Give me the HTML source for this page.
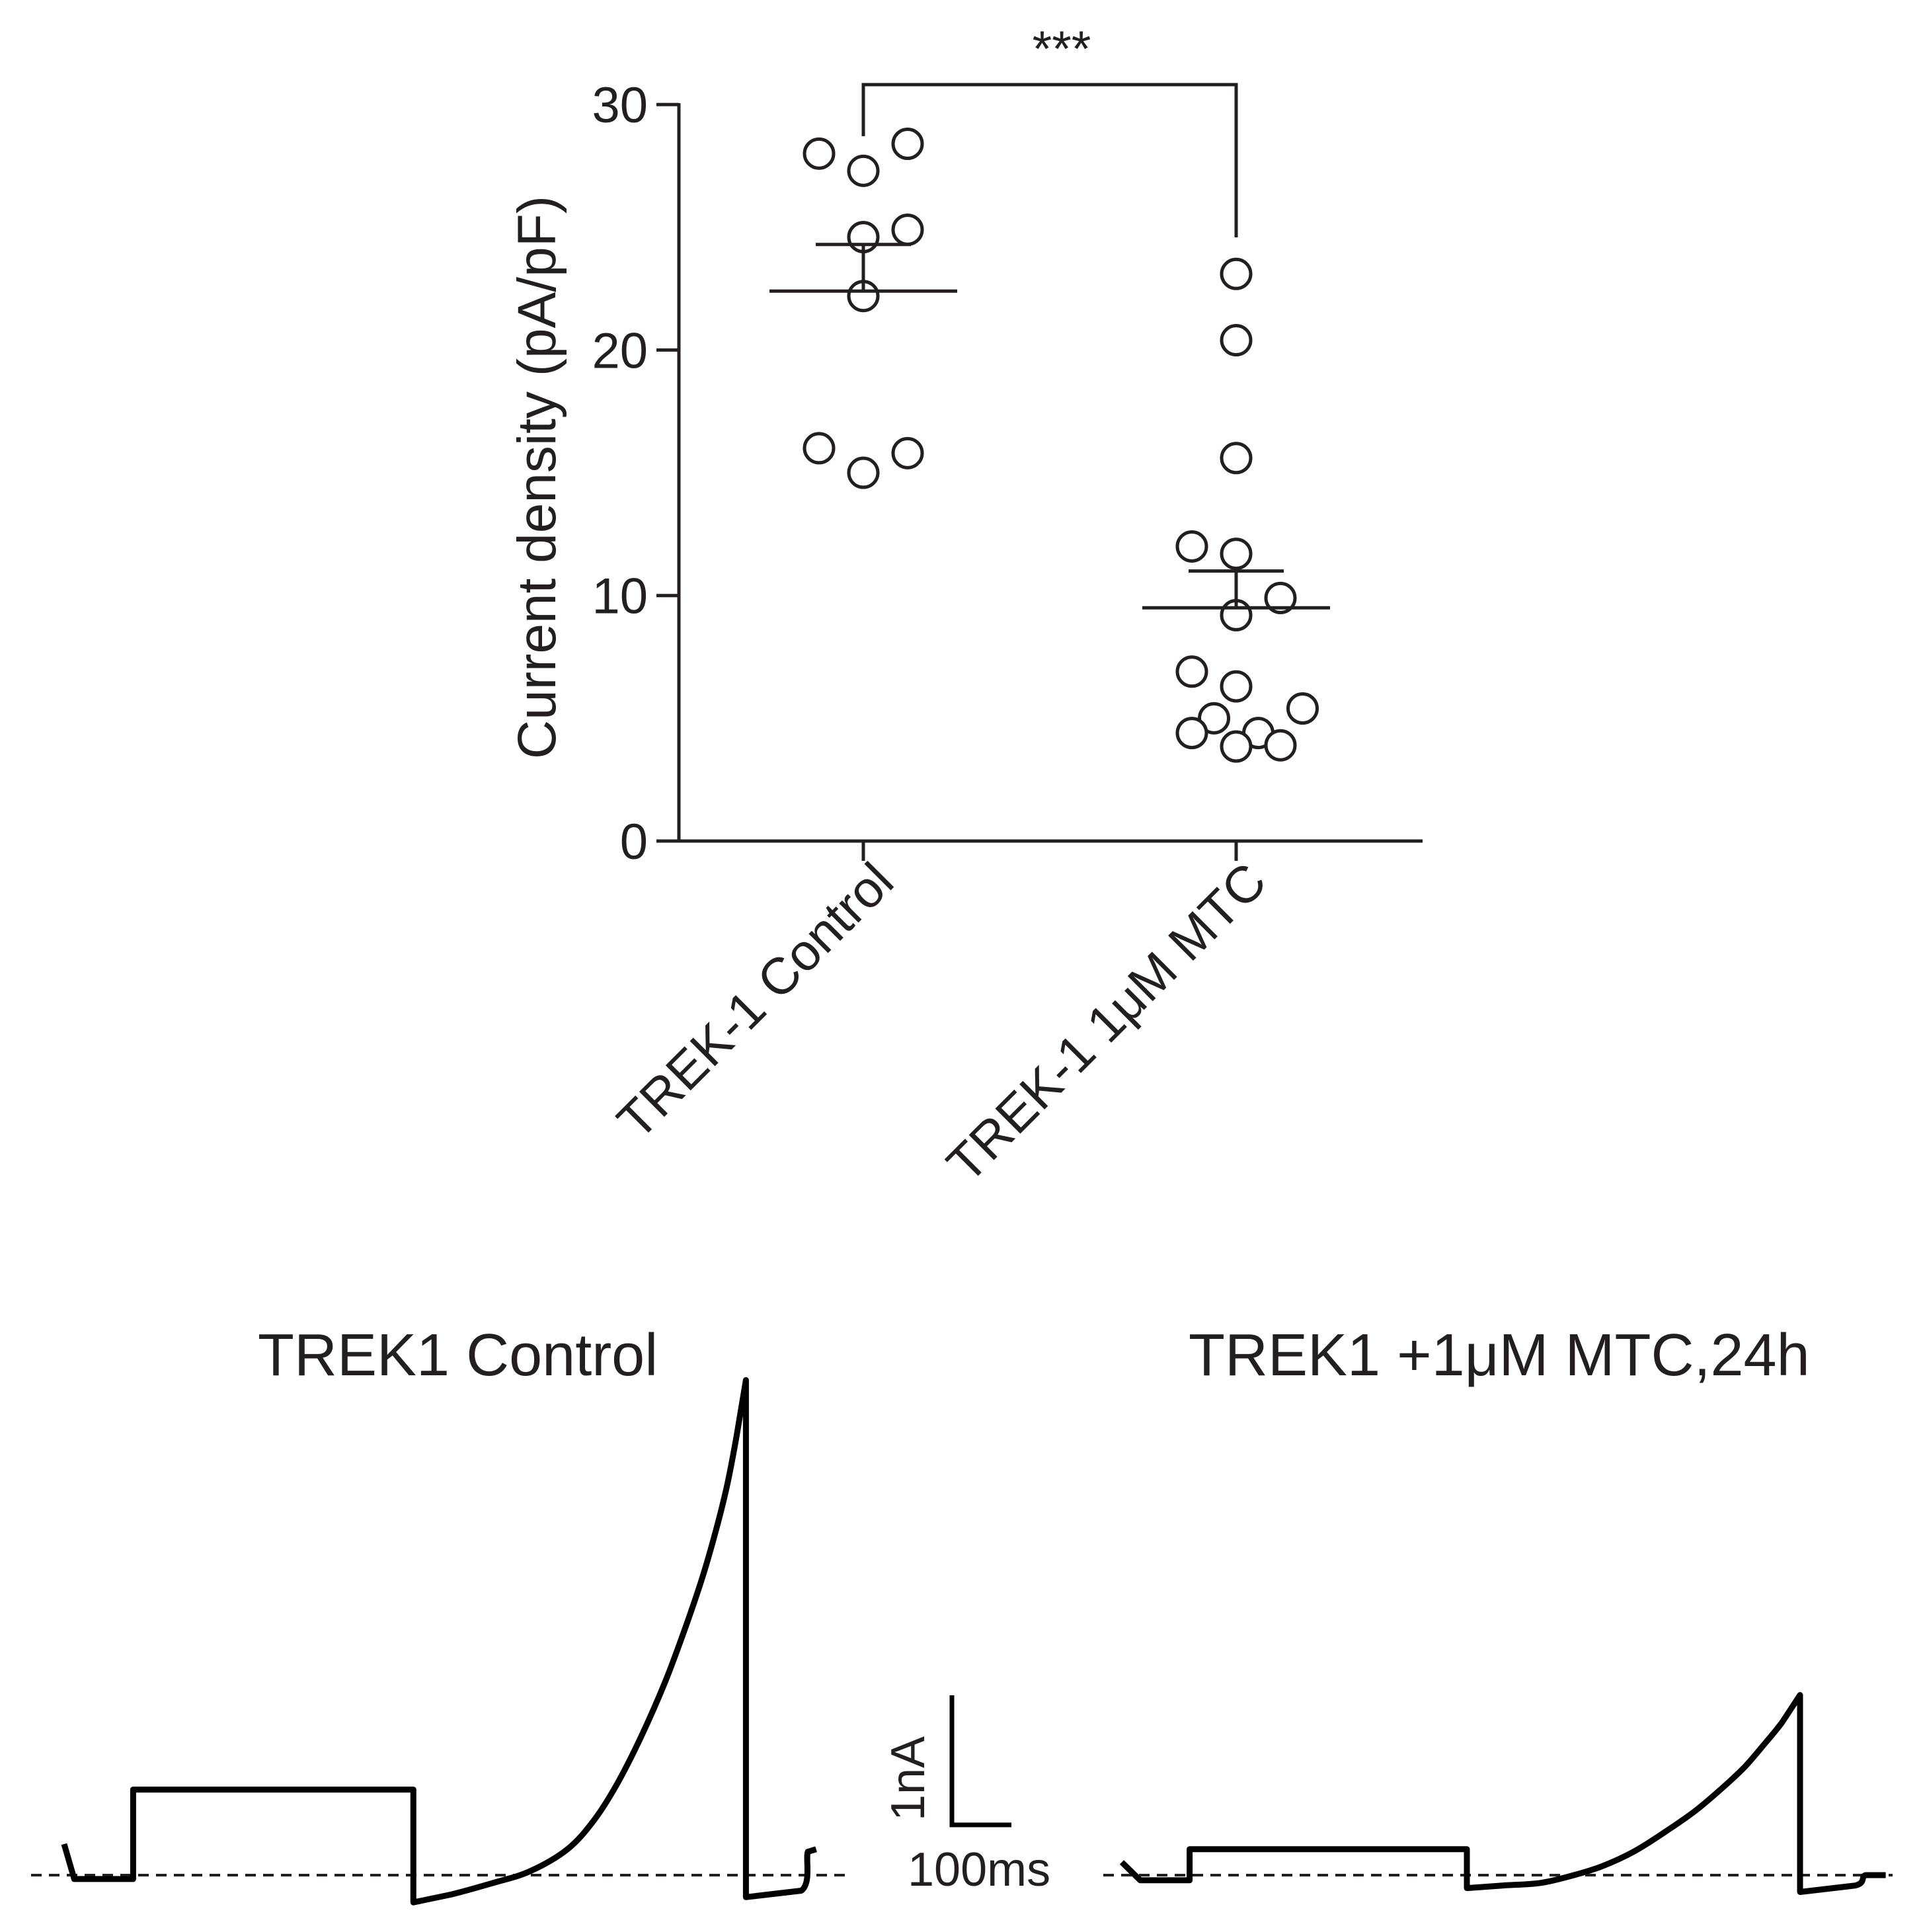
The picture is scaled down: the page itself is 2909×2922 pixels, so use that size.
<!DOCTYPE html>
<html><head><meta charset="utf-8"><style>
html,body{margin:0;padding:0;background:#fff;}
svg{display:block;font-family:"Liberation Sans",sans-serif;}
</style></head><body>
<svg id="fig" width="2909" height="2922" viewBox="0 0 2909 2922" xmlns="http://www.w3.org/2000/svg"></svg>
<script>
// ---- scatter data ----
const categories = ["TREK-1 Control", "TREK-1 1μM MTC"];
const controlValues = [28.0, 27.3, 28.4, 24.6, 24.9, 22.2, 16.0, 15.0, 15.8];
const controlJitter = [-1, 0, 1, 0, 1, 0, -1, 0, 1];
const mtcValues = [23.1, 20.4, 15.6, 12.0, 11.7, 9.9, 9.2, 6.9, 6.3, 5.4, 5.0, 4.4, 4.4, 3.85, 3.9];
const mtcJitter = [0, 0, 0, -1, 0, 1, 0, -1, 0, 1.5, -0.5, -1, 0.5, 0, 1];
const means = [22.4, 9.5];
const semTops = [24.3, 11.0];
const yTicks = [0, 10, 20, 30];
// ---- trace data (time ms, current nA) ----
const ctrlT = [0, 17, 116, 116, 587, 587, 650, 721, 783, 846, 890, 929, 970, 1011, 1045, 1073, 1095, 1114, 1130, 1146, 1146, 1239, 1250, 1264];
const ctrlI = [0.24, -0.03, -0.03, 0.66, 0.66, -0.21, -0.15, -0.06, 0.03, 0.2, 0.42, 0.70, 1.07, 1.50, 1.92, 2.30, 2.65, 3.0, 3.38, 3.82, -0.17, -0.12, 0.18, 0.2];
const mtcT = [0, 31, 114, 114, 580, 580, 640, 704, 760, 808, 860, 912, 965, 1016, 1048, 1078, 1110, 1140, 1140, 1233, 1250, 1284];
const mtcI = [0.1, -0.04, -0.04, 0.2, 0.2, -0.1, -0.08, -0.06, 0.0, 0.07, 0.18, 0.33, 0.50, 0.70, 0.84, 1.0, 1.18, 1.39, -0.13, -0.08, 0.0, 0.0];

const NS = "http://www.w3.org/2000/svg";
const svg = document.getElementById("fig");
function el(tag, attrs, parent) {
  const e = document.createElementNS(NS, tag);
  for (const k in attrs) e.setAttribute(k, attrs[k]);
  (parent || svg).appendChild(e);
  return e;
}
const ink = "#231f20";
const yScale = v => 1272 - v * 37.13;
const xCat = i => [1306, 1870][i];
const jitterPx = 67;

const gAx = el("g", {});


const ya = el("line", {x1: 1027, y1: 156, x2: 1027, y2: 1274, stroke: ink, "stroke-width": 5}, gAx);


const xa = el("line", {x1: 1025, y1: 1272, x2: 2152, y2: 1272, stroke: ink, "stroke-width": 5}, gAx);


yTicks.forEach(v => {
  const t = el("line", {x1: 993, y1: yScale(v), x2: 1027, y2: yScale(v), stroke: ink, "stroke-width": 5}, gAx);
  
  
  const l = el("text", {x: 980, y: yScale(v) + 27, "text-anchor": "end", "font-size": 76, fill: ink}, gAx);
  l.textContent = v;
  
  
});
categories.forEach((c, i) => {
  const t = el("line", {x1: xCat(i), y1: 1272, x2: xCat(i), y2: 1302, stroke: ink, "stroke-width": 5}, gAx);
  
  
  const l = el("text", {x: 0, y: 0, "text-anchor": "end", "font-size": 78, fill: ink,
    transform: `translate(${xCat(i) + 50},${1338}) rotate(-45)`}, gAx);
  l.textContent = c;
  
  
});
const yt = el("text", {x: 0, y: 0, "text-anchor": "middle", "font-size": 82, fill: ink,
  transform: "translate(840,722) rotate(-90)"});
yt.textContent = "Current density (pA/pF)";



const br = el("path", {d: "M1306,206 L1306,128 L1870,128 L1870,359", fill: "none", stroke: ink, "stroke-width": 5});


const st = el("text", {x: 1606, y: 100, "text-anchor": "middle", "font-size": 76, fill: ink});
st.textContent = "***";



function drawGroup(vals, jit, i, name) {
  const g = el("g", {});
  
  
  vals.forEach((v, k) => {
    const c = el("circle", {cx: xCat(i) + jit[k] * jitterPx, cy: yScale(v), r: 22, fill: "#fff", stroke: ink, "stroke-width": 5}, g);
    
    
  });
  const m = el("line", {x1: xCat(i) - 142, x2: xCat(i) + 142, y1: yScale(means[i]), y2: yScale(means[i]), stroke: ink, "stroke-width": 5}, g);
  
  
  const e1 = el("line", {x1: xCat(i), x2: xCat(i), y1: yScale(means[i]), y2: yScale(semTops[i]), stroke: ink, "stroke-width": 5}, g);
  
  
  const e2 = el("line", {x1: xCat(i) - 72, x2: xCat(i) + 72, y1: yScale(semTops[i]), y2: yScale(semTops[i]), stroke: ink, "stroke-width": 5}, g);
  
  
}
drawGroup(controlValues, controlJitter, 0, "control-group");
drawGroup(mtcValues, mtcJitter, 1, "mtc-group");

// ---- traces ----
const baseY = 2836, pxPerNA = 196, pxPerMs = 0.9;
const traceX = (x0, t) => x0 + t * pxPerMs;
const traceY = i => baseY - i * pxPerNA;

function dash(x1, x2, name) {
  const d = el("line", {x1, x2, y1: baseY, y2: baseY, stroke: ink, "stroke-width": 4, "stroke-dasharray": "16 11"});
  
  
}
dash(47, 1278, 'control-baseline');
dash(1669, 2863, 'mtc-baseline');

function trace(T, I, x0, name) {
  const P = T.map((t, k) => [traceX(x0, t), traceY(I[k])]);
  let d = "M" + P[0][0].toFixed(1) + "," + P[0][1].toFixed(1);
  for (let k = 1; k < P.length; k++) {
    const a = P[k - 1], b = P[k];
    const pa = P[k - 2], nb = P[k + 1];
    const smooth = pa && nb && a[0] > pa[0] + 0.1 && b[0] > a[0] + 0.1 && nb[0] > b[0] + 0.1;
    if (smooth) {
      const c1 = [a[0] + (b[0] - pa[0]) / 6, a[1] + (b[1] - pa[1]) / 6];
      const c2 = [b[0] - (nb[0] - a[0]) / 6, b[1] - (nb[1] - a[1]) / 6];
      d += ` C${c1[0].toFixed(1)},${c1[1].toFixed(1)} ${c2[0].toFixed(1)},${c2[1].toFixed(1)} ${b[0].toFixed(1)},${b[1].toFixed(1)}`;
    } else {
      d += ` L${b[0].toFixed(1)},${b[1].toFixed(1)}`;
    }
  }
  const p = el("path", {d, fill: "none", stroke: "#000", "stroke-width": 9, "stroke-linejoin": "round"});
  
  
}
trace(ctrlT, ctrlI, 97, 'control-trace');
trace(mtcT, mtcI, 1697, 'mtc-trace');

const t1 = el("text", {x: 390, y: 2080, "font-size": 90, fill: ink});
t1.textContent = "TREK1 Control";


const t2 = el("text", {x: 1798, y: 2080, "font-size": 90, fill: ink});
t2.textContent = "TREK1 +1μM MTC,24h";



const sb = el("path", {d: "M1440,2564 L1440,2760 L1530,2760", fill: "none", stroke: "#000", "stroke-width": 7});


const s1 = el("text", {x: 0, y: 0, "text-anchor": "middle", "font-size": 72, fill: ink, transform: "translate(1398,2690) rotate(-90)"});
s1.textContent = "1nA";


const s2 = el("text", {x: 1373, y: 2852, "font-size": 72, fill: ink});
s2.textContent = "100ms";


</script>
</body></html>
